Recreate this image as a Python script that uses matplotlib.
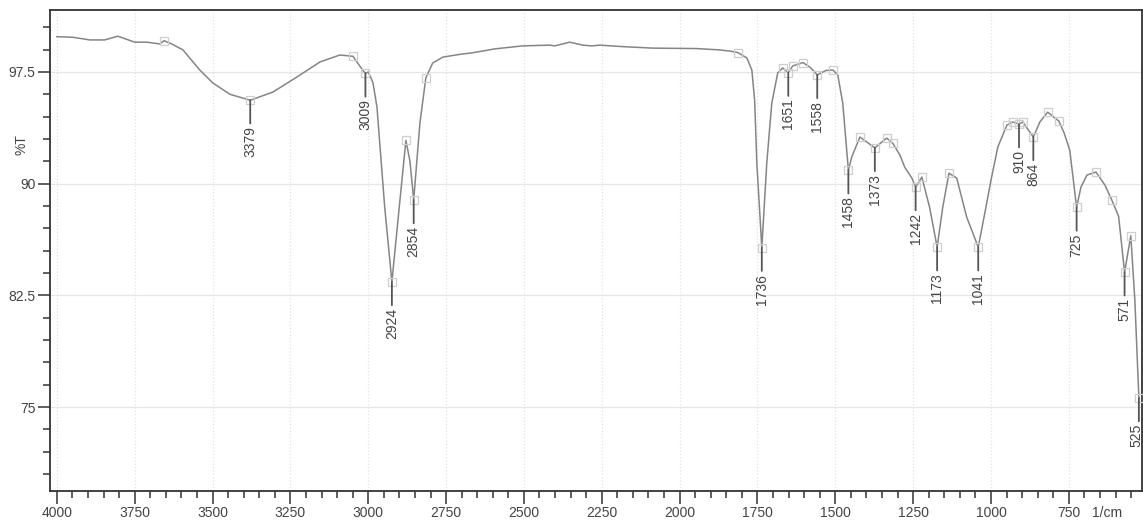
import numpy as np
import matplotlib
matplotlib.use("Agg")
from matplotlib import pyplot as plt
from matplotlib.ticker import MultipleLocator

plt.rcParams['font.family'] = ['Liberation Sans', 'DejaVu Sans']

# spectrum (wavenumber 1/cm, %T)
wavenumber = [4000, 3949, 3894, 3846, 3804, 3750, 3711, 3669, 3656, 3631,
              3595, 3541, 3499, 3444, 3379, 3306, 3229, 3155, 3091, 3049,
              3017, 3009, 3000, 2985, 2972, 2947, 2924, 2900, 2879, 2866,
              2854, 2842, 2834, 2815, 2793, 2760, 2700, 2667, 2593, 2504,
              2417, 2401, 2353, 2311, 2282, 2256, 2182, 2086, 1945, 1871,
              1829, 1813, 1784, 1768, 1759, 1752, 1736, 1720, 1704, 1685,
              1669, 1651, 1637, 1604, 1580, 1558, 1530, 1508, 1492, 1476,
              1458, 1447, 1421, 1399, 1373, 1335, 1315, 1292, 1277, 1254,
              1242, 1222, 1197, 1173, 1155, 1135, 1110, 1078, 1058, 1041,
              1020, 998, 978, 949, 930, 910, 898, 880, 864, 843,
              818, 782, 765, 747, 725, 711, 692, 663, 634, 612,
              590, 571, 551, 538, 525]
transmittance = [99.87, 99.83, 99.65, 99.65, 99.9, 99.5, 99.5, 99.38, 99.6, 99.38,
                 98.98, 97.63, 96.76, 96.0, 95.6, 96.15, 97.16, 98.17, 98.64, 98.55,
                 97.6, 97.4, 97.5, 96.8, 95.15, 88.4, 83.4, 88.5, 92.9, 91.5,
                 88.9, 92.0, 94.07, 97.1, 98.1, 98.5, 98.7, 98.78, 99.05, 99.25,
                 99.3, 99.25, 99.5, 99.3, 99.25, 99.3, 99.2, 99.1, 99.07, 98.98,
                 98.87, 98.8, 98.44, 97.63, 95.6, 91.4, 85.7, 91.4, 95.4, 97.43,
                 97.77, 97.45, 97.9, 98.13, 97.8, 97.3, 97.6, 97.63, 97.3, 95.4,
                 90.9, 91.8, 93.13, 92.8, 92.4, 93.06, 92.7, 91.9, 91.1, 90.37,
                 89.77, 90.44, 88.4, 85.73, 88.4, 90.7, 90.37, 87.75, 86.67, 85.73,
                 88.0, 90.44, 92.46, 93.93, 94.14, 94.0, 94.14, 93.6, 93.13, 94.14,
                 94.8, 94.2, 93.4, 92.25, 88.4, 89.77, 90.57, 90.78, 89.9, 88.9,
                 87.8, 84.05, 86.5, 82.2, 75.6]

# points the instrument marked with small squares
marked = [3656, 3379, 3049, 3009, 2924, 2879, 2854, 2815, 1813, 1736,
          1669, 1651, 1637, 1604, 1558, 1508, 1458, 1421, 1373, 1335,
          1315, 1242, 1222, 1173, 1135, 1041, 949, 930, 910, 898,
          864, 818, 782, 725, 663, 612, 571, 551, 525]

# labelled peaks
peaks = [3379, 3009, 2924, 2854, 1736, 1651, 1558, 1458, 1373, 1242,
         1173, 1041, 910, 864, 725, 571, 525]

lookup = dict(zip(wavenumber, transmittance))

fig = plt.figure(figsize=(11.43, 5.21), dpi=100)
ax = fig.add_axes([50 / 1143, 30 / 521, 1092 / 1143, 481 / 521])

ax.plot(wavenumber, transmittance, color='#858585', lw=1.1, zorder=3)
ax.plot(marked, [lookup[w] for w in marked], ls='none', marker='s', ms=6,
        mfc='none', mec='#cfcfcf', mew=0.9, zorder=4)

for w in peaks:
    # last label sits right at the figure edge: nudge the text in,
    # but keep its leader line vertical
    if w == peaks[-1]:
        dx, rel = -2, (0.64, 1.0)
    else:
        dx, rel = 0, (0.5, 1.0)
    ax.annotate(str(w), xy=(w, lookup[w]), xytext=(dx, -26), textcoords='offset pixels',
                rotation=90, ha='center', va='top', fontsize=10, color='#444444',
                arrowprops=dict(arrowstyle='-', color='#555555', lw=1.3,
                                shrinkA=0, shrinkB=0, relpos=rel), zorder=5)

ax.set_xlim(4022, 515)
ax.set_ylim(69.36, 101.66)

ax.xaxis.set_major_locator(MultipleLocator(250))
ax.xaxis.set_minor_locator(MultipleLocator(50))
ax.yaxis.set_major_locator(MultipleLocator(7.5))
ax.yaxis.set_minor_locator(MultipleLocator(1.5))
ax.yaxis.set_major_formatter(matplotlib.ticker.FuncFormatter(lambda v, p: f"{v:g}"))

ax.tick_params(which='major', length=9, width=1.1, color='#333333',
               labelsize=10, labelcolor='#444444', pad=1.5)
ax.tick_params(which='minor', length=5, width=1.1, color='#333333')

ax.grid(True, which='major', axis='x', color='#e2e2e2', lw=0.9, ls=':')
ax.grid(True, which='major', axis='y', color='#e6e6e6', lw=0.9)
ax.set_axisbelow(True)

for s in ax.spines.values():
    s.set_color('#333333')
    s.set_linewidth(1.3)

ax.set_ylabel('%T', fontsize=10, color='#444444')
ax.yaxis.set_label_coords(-0.02, 0.72)
ax.text(0.968, -0.046, '1/cm', transform=ax.transAxes, ha='center', va='center',
        fontsize=10, color='#444444')

fig.savefig('out.png', dpi=100)
